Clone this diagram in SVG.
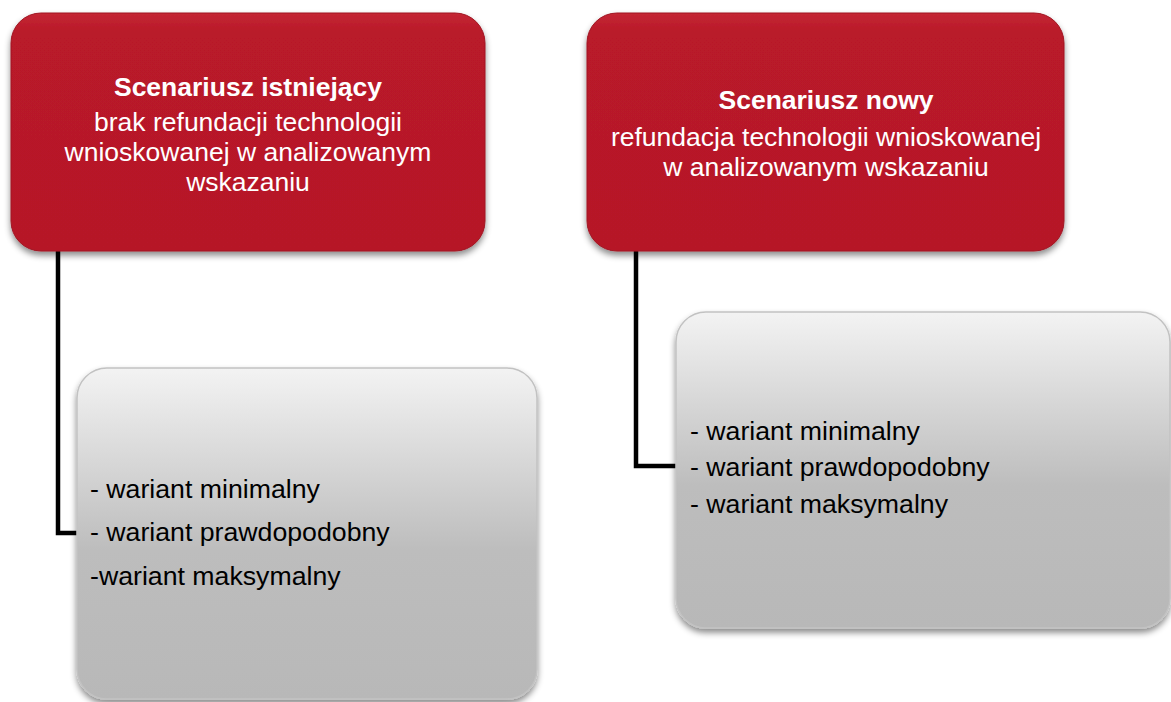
<svg xmlns="http://www.w3.org/2000/svg" width="1171" height="702" viewBox="0 0 1171 702">
<defs>
<linearGradient id="redGrad" x1="0" y1="0" x2="0" y2="1">
<stop offset="0" stop-color="#C42634"/>
<stop offset="0.08" stop-color="#B91A29"/>
<stop offset="1" stop-color="#B61828"/>
</linearGradient>
<linearGradient id="grayGrad" x1="0" y1="0" x2="0" y2="1">
<stop offset="0" stop-color="#F3F3F3"/>
<stop offset="0.55" stop-color="#BDBDBD"/>
<stop offset="1" stop-color="#B8B8B8"/>
</linearGradient>
<filter id="shadow" x="-10%" y="-10%" width="120%" height="125%">
<feDropShadow dx="0" dy="4" stdDeviation="3" flood-color="#000" flood-opacity="0.45"/>
</filter>
<style>
.red{fill:url(#redGrad);stroke:#A01422;stroke-width:1;filter:url(#shadow)}
.gray{fill:url(#grayGrad);stroke:#C2C2C2;stroke-width:1.5;filter:url(#shadow)}
.title{font-family:"Liberation Sans",Arial,sans-serif;font-size:26.5px;font-weight:bold;fill:#fff;text-anchor:middle}
.sub{font-family:"Liberation Sans",Arial,sans-serif;font-size:26.5px;fill:#fff;text-anchor:middle}
.item{font-family:"Liberation Sans",Arial,sans-serif;font-size:26.7px;fill:#000}
.conn{fill:none;stroke:#000;stroke-width:4.5}
</style>
</defs>
<g id="connectors">
<path class="conn" d="M58,250 V533 H78"/>
<path class="conn" d="M636,250 V466 H676"/>
</g>
<g id="node-istniejacy">
<rect class="red" x="11" y="13" width="474" height="238" rx="30" ry="30"/>
<text class="title" x="248" y="96">Scenariusz istniejący</text>
<text class="sub" x="248" y="131">brak refundacji technologii</text>
<text class="sub" x="248" y="161">wnioskowanej w analizowanym</text>
<text class="sub" x="248" y="191">wskazaniu</text>
</g>
<g id="node-nowy">
<rect class="red" x="587" y="13" width="477" height="238" rx="30" ry="30"/>
<text class="title" x="826" y="109">Scenariusz nowy</text>
<text class="sub" x="826" y="146">refundacja technologii wnioskowanej</text>
<text class="sub" x="826" y="176">w analizowanym wskazaniu</text>
</g>
<g id="node-warianty-istniejacy">
<rect class="gray" x="77" y="368" width="460" height="331" rx="30" ry="30"/>
<text class="item" x="90" y="498">- wariant minimalny</text>
<text class="item" x="90" y="541">- wariant prawdopodobny</text>
<text class="item" x="90" y="585">-wariant maksymalny</text>
</g>
<g id="node-warianty-nowy">
<rect class="gray" x="676" y="312" width="494" height="316" rx="30" ry="30"/>
<text class="item" x="690" y="440">- wariant minimalny</text>
<text class="item" x="690" y="476">- wariant prawdopodobny</text>
<text class="item" x="690" y="513">- wariant maksymalny</text>
</g>
</svg>
